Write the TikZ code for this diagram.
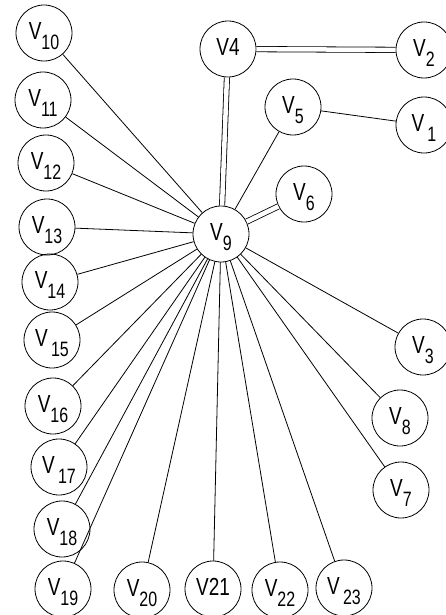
\documentclass[tikz,border=0pt]{standalone}
\usepackage{fontspec}
\setmainfont{Liberation Sans}
\usetikzlibrary{
  positioning,
}
\newcommand{\vl}[2][]{\scalebox{1}[1.3]{V#1\raisebox{-7.5pt}{\fontsize{16}{16}\selectfont #2}}}
\newcommand{\vp}[1]{\scalebox{1}[1.3]{V#1}}
\tikzset{
  vtx/.style={draw, circle, minimum size=56pt, inner sep=0pt, line width=0.8pt,
    font=\fontsize{19}{19}\selectfont, text height=13pt, text depth=0pt},
  lnk/.style={line width=0.8pt},
  dbl/.style={line width=0.8pt, double, double distance=4.5pt},
}

\begin{document}
\begin{tikzpicture}[x=1pt, y=-1pt]
\useasboundingbox (0,0) rectangle (446,615);
\foreach \n/\x/\y/\t in {
  10/44/33/\vl{10}, 4/228/49/\vp{4}, 2/424/50/\vl{2},
  11/43/100/\vl{11}, 5/293/107/\vl{5}, 1/424/125/\vl[\,]{1},
  12/46/163/\vl{12}, 6/304/194/\vl{6}, 13/47/227/\vl{13},
  9/221/234/\vl{9}, 14/50/282/\vl{14}, 15/52/340/\vl[\,]{15},
  3/423/347/\vl{3}, 16/53/406/\vl{16}, 8/400/418/\vl{8},
  17/59/467/\vl[\,]{17}, 7/401/490/\vl{7}, 18/62/529/\vl{18},
  19/63/589/\vl{19}, 20/142/590/\vl{20}, 21/213/589/\vp{21},
  22/280/590/\vl{22}, 23/344/588/\vl[\,]{23}} {
  \node[vtx] (v\n) at (\x,\y) {\t};
}
% single edges
\foreach \k in {10,...,23,3,5,7,8} {
  \draw[lnk] (v9) -- (v\k);
}
\draw[lnk] (v5) -- (v1);
% double edges
\draw[dbl] (v9) -- (v4);
\draw[dbl] (v9) -- (v6);
\draw[dbl] (v4) -- (v2);
\end{tikzpicture}
\end{document}
